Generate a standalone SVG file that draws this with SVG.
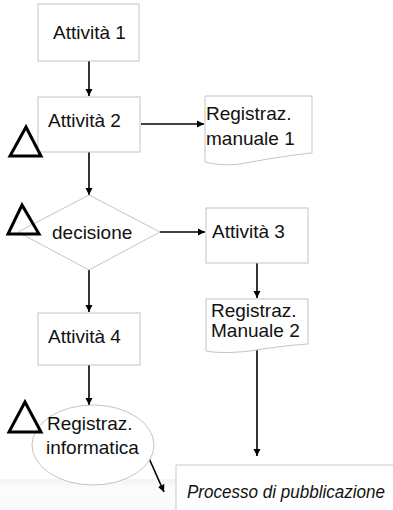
<svg xmlns="http://www.w3.org/2000/svg" width="393" height="510" viewBox="0 0 393 510">
  <defs>
    <marker id="arrow" viewBox="0 0 10 10" refX="10" refY="5" markerWidth="4.5" markerHeight="4.5" markerUnits="strokeWidth" orient="auto">
      <path d="M0,0 L10,5 L0,10 Z" fill="#000"/>
    </marker>
    <linearGradient id="haze" x1="0" y1="0" x2="0" y2="1">
      <stop offset="0" stop-color="#f3f3f3"/>
      <stop offset="0.3" stop-color="#fcfcfc"/>
      <stop offset="1" stop-color="#f9f9f9"/>
    </linearGradient>
  </defs>
  <style>
    .shape { fill: #fff; stroke: #c4c4c4; stroke-width: 1; }
    .lbl { font-family: "Liberation Sans", Arial, sans-serif; font-size: 19px; fill: #111; }
    .tri { fill: none; stroke: #000; stroke-width: 3; stroke-linejoin: miter; }
    .conn { stroke: #000; stroke-width: 1.6; fill: none; marker-end: url(#arrow); }
  </style>

  <rect width="393" height="510" fill="#fff"/>
  <!-- faint band along the lower edge -->
  <rect x="0" y="479" width="176" height="31" fill="url(#haze)"/>

  <g id="connectors">
    <line class="conn" x1="89" y1="61" x2="89" y2="96"/>
    <line class="conn" x1="141" y1="124" x2="204" y2="124"/>
    <line class="conn" x1="89" y1="152" x2="89" y2="195"/>
    <line class="conn" x1="160" y1="232" x2="205" y2="232"/>
    <line class="conn" x1="257" y1="263" x2="257" y2="298"/>
    <line class="conn" x1="89" y1="270" x2="89" y2="312"/>
    <line class="conn" x1="257" y1="347" x2="257" y2="456"/>
    <line class="conn" x1="89" y1="365" x2="89" y2="405"/>
    <line class="conn" x1="148" y1="456" x2="164" y2="492"/>
  </g>

  <g id="attivita1">
    <rect class="shape" x="38" y="4" width="101" height="57"/>
    <text class="lbl" x="53" y="39">Attività 1</text>
  </g>

  <g id="attivita2">
    <rect class="shape" x="38" y="97" width="102" height="55"/>
    <text class="lbl" x="48" y="127">Attività 2</text>
  </g>

  <g id="registraz-manuale1">
    <path class="shape" d="M205,96 H312 V153 C290,155 262,160 240,164 C225,166 212,164 205,162 Z"/>
    <text class="lbl" x="206" y="120">Registraz.</text>
    <text class="lbl" x="206" y="145">manuale 1</text>
  </g>

  <g id="decisione">
    <path class="shape" d="M89,195 L160,232 L89,270 L18,232 Z"/>
    <text class="lbl" x="52" y="239">decisione</text>
  </g>

  <g id="attivita3">
    <rect class="shape" x="206" y="208" width="102" height="55"/>
    <text class="lbl" x="212" y="238">Attività 3</text>
  </g>

  <g id="registraz-manuale2">
    <path class="shape" d="M206,299 H308 V344 C290,345 268,348 250,351 C232,353 216,353 206,351 Z"/>
    <text class="lbl" x="211" y="317">Registraz.</text>
    <text class="lbl" x="211" y="337">Manuale 2</text>
  </g>

  <g id="attivita4">
    <rect class="shape" x="38" y="313" width="102" height="52"/>
    <text class="lbl" x="48" y="343">Attività 4</text>
  </g>

  <g id="registraz-informatica">
    <ellipse class="shape" cx="93" cy="445" rx="61" ry="40"/>
    <text class="lbl" x="47" y="430">Registraz.</text>
    <text class="lbl" x="46" y="454">informatica</text>
  </g>

  <g id="processo-pubblicazione">
    <path d="M176,510 V465 H393" fill="#fff" stroke="#c8c8c8" stroke-width="1"/>
    <text x="187" y="498" font-family="'Liberation Sans', Arial, sans-serif" font-style="italic" font-size="18" fill="#111" textLength="198" lengthAdjust="spacingAndGlyphs">Processo di pubblicazione</text>
  </g>

  <g id="controlli">
    <polygon class="tri" points="10,156 41,156 26,127"/>
    <polygon class="tri" points="8,234 39,234 22,205"/>
    <polygon class="tri" points="9,432 41,432 25,402"/>
  </g>
</svg>
